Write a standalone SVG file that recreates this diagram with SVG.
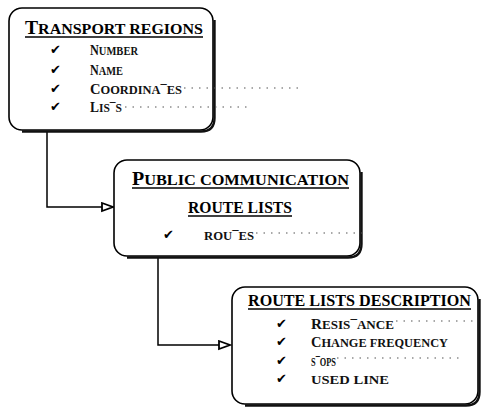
<svg xmlns="http://www.w3.org/2000/svg" width="482" height="409" viewBox="0 0 482 409">
<defs>
<style>
.box{fill:#fff;stroke:#000;stroke-width:1.6}
.shadow{fill:none;stroke:#111;stroke-width:2.4}
.title{font-family:"Liberation Serif","Times New Roman",serif;font-weight:bold;font-size:15.5px;fill:#000}
.big{font-size:19px}
.item{font-family:"Liberation Serif","Times New Roman",serif;font-weight:bold;font-size:12px;fill:#111}
.cap{font-size:14px}
.chk{font-family:"DejaVu Sans",sans-serif;font-size:13px;fill:#000}
.ul{stroke:#000;stroke-width:1.3}
.dot{stroke:#555;stroke-width:1.2;stroke-dasharray:1.5 6;fill:none}
.conn{fill:none;stroke:#000;stroke-width:1.5}
</style>
<marker id="arr" markerUnits="userSpaceOnUse" markerWidth="16" markerHeight="12" refX="12" refY="5" orient="auto">
<path d="M1,1 L12,5 L1,9 Z" fill="#fff" stroke="#000" stroke-width="1.8"/>
</marker>
</defs>
<rect width="482" height="409" fill="#fff"/>

<g id="connectors">
<path class="conn" d="M47,131 V207 H113" marker-end="url(#arr)"/>
<path class="conn" d="M158,257 V345 H230" marker-end="url(#arr)"/>
</g>

<g id="transport-regions">
<rect class="box" x="9" y="8" width="204" height="122" rx="13"/>
<path class="shadow" d="M214.5,20 V118 Q214.5,131.5 201,131.5 H22"/>
<text class="title" x="25" y="34" textLength="178" lengthAdjust="spacingAndGlyphs"><tspan class="big">T</tspan>RANSPORT REGIONS</text>
<line class="ul" x1="25" y1="37" x2="203" y2="37"/>
<text class="chk" x="50" y="54">✔</text>
<text class="item" x="90" y="55" textLength="48" lengthAdjust="spacingAndGlyphs"><tspan class="cap">N</tspan>UMBER</text>
<text class="chk" x="50" y="73.5">✔</text>
<text class="item" x="90" y="74.5" textLength="33" lengthAdjust="spacingAndGlyphs"><tspan class="cap">N</tspan>AME</text>
<text class="chk" x="50" y="93">✔</text>
<text class="item" x="90" y="94" textLength="92" lengthAdjust="spacingAndGlyphs"><tspan class="cap">C</tspan>OORDINA¯ES</text>
<text class="chk" x="50" y="111">✔</text>
<text class="item" x="90" y="112" textLength="32" lengthAdjust="spacingAndGlyphs"><tspan class="cap">L</tspan>IS¯S</text>
<line class="dot" x1="184" y1="88" x2="300" y2="88"/>
<line class="dot" x1="125" y1="107" x2="248" y2="107"/>
</g>

<g id="public-communication">
<rect class="box" x="114" y="160" width="246" height="96" rx="13"/>
<path class="shadow" d="M361.5,172 V244 Q361.5,257.5 348,257.5 H127"/>
<text class="title" x="132" y="185" textLength="217" lengthAdjust="spacingAndGlyphs"><tspan class="big">P</tspan>UBLIC COMMUNICATION</text>
<line class="ul" x1="132" y1="188" x2="349" y2="188"/>
<text class="title" x="188" y="213" textLength="104" lengthAdjust="spacingAndGlyphs" style="font-size:17px">ROUTE LISTS</text>
<line class="ul" x1="188" y1="216" x2="292" y2="216"/>
<text class="chk" x="163" y="239">✔</text>
<text class="item" x="204" y="240" textLength="50" lengthAdjust="spacingAndGlyphs">ROU¯ES</text>
<line class="dot" x1="256" y1="233" x2="368" y2="233"/>
</g>

<g id="route-lists-description">
<rect class="box" x="232" y="287" width="246" height="117" rx="13"/>
<path class="shadow" d="M479.5,299 V392 Q479.5,405.5 466,405.5 H245"/>
<text class="title" x="248" y="306" textLength="223" lengthAdjust="spacingAndGlyphs" style="font-size:17px">ROUTE LISTS DESCRIPTION</text>
<line class="ul" x1="248" y1="309" x2="471" y2="309"/>
<text class="chk" x="276" y="328">✔</text>
<text class="item" x="311" y="329" textLength="83" lengthAdjust="spacingAndGlyphs"><tspan class="cap">R</tspan>ESIS¯ANCE</text>
<text class="chk" x="276" y="346">✔</text>
<text class="item" x="311" y="347" textLength="137" lengthAdjust="spacingAndGlyphs"><tspan class="cap">C</tspan>HANGE FREQUENCY</text>
<text class="chk" x="276" y="365">✔</text>
<text class="item" x="311" y="366" textLength="25" lengthAdjust="spacingAndGlyphs">S¯OPS</text>
<text class="chk" x="276" y="383">✔</text>
<text class="item" x="311" y="384" textLength="78" lengthAdjust="spacingAndGlyphs">USED LINE</text>
<line class="dot" x1="396" y1="321" x2="478" y2="321"/>
<line class="dot" x1="337" y1="358" x2="462" y2="358"/>
</g>
</svg>
